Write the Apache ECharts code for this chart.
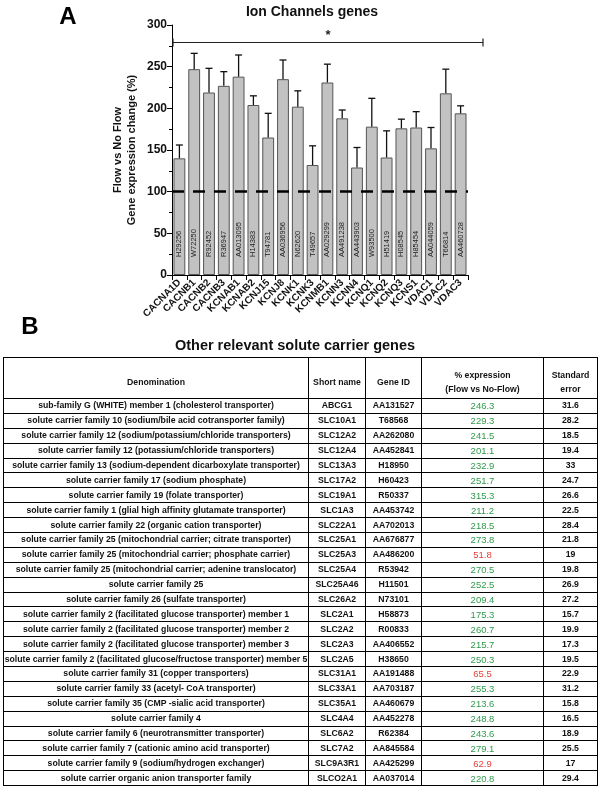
<!DOCTYPE html>
<html>
<head>
<meta charset="utf-8">
<script src="https://cdn.jsdelivr.net/npm/echarts@6/dist/echarts.min.js"></script>
<style>
  html, body { margin: 0; padding: 0; background: #fff; }
  #chart { position: absolute; left: 0; top: 0; width: 600px; height: 787px; }
  #tbl { position: absolute; left: 3px; top: 357px; width: 594px; }
  table { border-collapse: collapse; table-layout: fixed; width: 594px;
          font-family: 'Liberation Sans', Arial, sans-serif; font-size: 8.7px; font-weight: bold; color: #111; }
  td, th { border: 1px solid #000; padding: 0; text-align: center; white-space: nowrap; overflow: visible; line-height: 11px; }
  thead tr { height: 41px; }
  th { font-weight: bold; line-height: 14px; padding-top: 7px; box-sizing: border-box; }
  tbody tr { height: 14.9px; }
  td.pct { font-weight: normal; font-size: 9.5px; }
</style>
</head>
<body>
<div id="chart"></div>
<div id="tbl"></div>
<script>
// ---------- Panel A data ----------
var categories = ['CACNA1D','CACNB1','CACNB2','CACNB3','KCNAB1','KCNAB2','KCNJ15','KCNJ8','KCNK1','KCNK3',
                  'KCNMB1','KCNN3','KCNN4','KCNQ1','KCNQ2','KCNQ3','KCNS1','VDAC1','VDAC2','VDAC3'];
var probeIds = ['H29256','W72250','R92452','R36947','AA013095','H14383','T94781','AA036956','N62620','T49657',
                'AA029299','AA491238','AA443903','W93500','H51419','H08545','H85454','AA044059','T66814','AA460728'];
var expression = [140,247,219,227,238,204,165,235,202,132,231,188,129,178,141,176,177,152,218,194];
var stdErrA = [16,19,29,17,26,11,29,23,19,23,22,10,24,34,32,11,19,25,29,9];
var yTicks = [0, 300, 50];        // min, max, interval
var baseline = 100;
var bracketLevel = 279;

// ---------- Panel B data ----------
var headers = ['Denomination','Short name','Gene ID','% expression<br>(Flow vs No-Flow)','Standard<br>error'];
var denominations = [
  'sub-family G (WHITE) member 1 (cholesterol transporter)',
  'solute carrier family 10 (sodium/bile acid cotransporter family)',
  'solute carrier family 12 (sodium/potassium/chloride transporters)',
  'solute carrier family 12 (potassium/chloride transporters)',
  'solute carrier family 13 (sodium-dependent dicarboxylate transporter)',
  'solute carrier family 17 (sodium phosphate)',
  'solute carrier family 19 (folate transporter)',
  'solute carrier family 1 (glial high affinity glutamate transporter)',
  'solute carrier family 22 (organic cation transporter)',
  'solute carrier family 25 (mitochondrial carrier; citrate transporter)',
  'solute carrier family 25 (mitochondrial carrier; phosphate carrier)',
  'solute carrier family 25 (mitochondrial carrier; adenine translocator)',
  'solute carrier family 25',
  'solute carrier family 26 (sulfate transporter)',
  'solute carrier family 2 (facilitated glucose transporter) member 1',
  'solute carrier family 2 (facilitated glucose transporter) member 2',
  'solute carrier family 2 (facilitated glucose transporter) member 3',
  'solute carrier family 2 (facilitated glucose/fructose transporter) member 5',
  'solute carrier family 31 (copper transporters)',
  'solute carrier family 33 (acetyl- CoA transporter)',
  'solute carrier family 35 (CMP -sialic acid transporter)',
  'solute carrier family 4',
  'solute carrier family 6 (neurotransmitter transporter)',
  'solute carrier family 7 (cationic amino acid transporter)',
  'solute carrier family 9 (sodium/hydrogen exchanger)',
  'solute carrier organic anion transporter family'
];
var shortNames = ['ABCG1','SLC10A1','SLC12A2','SLC12A4','SLC13A3','SLC17A2','SLC19A1','SLC1A3','SLC22A1','SLC25A1',
  'SLC25A3','SLC25A4','SLC25A46','SLC26A2','SLC2A1','SLC2A2','SLC2A3','SLC2A5','SLC31A1','SLC33A1','SLC35A1',
  'SLC4A4','SLC6A2','SLC7A2','SLC9A3R1','SLCO2A1'];
var geneIds = ['AA131527','T68568','AA262080','AA452841','H18950','H60423','R50337','AA453742','AA702013','AA676877',
  'AA486200','R53942','H11501','N73101','H58873','R00833','AA406552','H38650','AA191488','AA703187','AA460679',
  'AA452278','R62384','AA845584','AA425299','AA037014'];
var pctExpression = ['246.3','229.3','241.5','201.1','232.9','251.7','315.3','211.2','218.5','273.8',
  '51.8','270.5','252.5','209.4','175.3','260.7','215.7','250.3','65.5','255.3','213.6',
  '248.8','243.6','279.1','62.9','220.8'];
var stdErrB = ['31.6','28.2','18.5','19.4','33','24.7','26.6','22.5','28.4','21.8',
  '19','19.8','26.9','27.2','15.7','19.9','17.3','19.5','22.9','31.2','15.8',
  '16.5','18.9','25.5','17','29.4'];

// ---------- build table ----------
(function () {
  var colW = [305, 57, 56, 122, 54];
  var h = '<table><colgroup>' + colW.map(function (w) { return '<col style="width:' + w + 'px">'; }).join('') + '</colgroup>';
  h += '<thead><tr>' + headers.map(function (t) { return '<th>' + t + '</th>'; }).join('') + '</tr></thead><tbody>';
  for (var i = 0; i < denominations.length; i++) {
    var v = parseFloat(pctExpression[i]);
    var col = v >= 100 ? '#2f9a4c' : '#e2413b';
    h += '<tr><td>' + denominations[i] + '</td><td>' + shortNames[i] + '</td><td>' + geneIds[i] +
         '</td><td class="pct" style="color:' + col + '">' + pctExpression[i] + '</td><td>' + stdErrB[i] + '</td></tr>';
  }
  h += '</tbody></table>';
  document.getElementById('tbl').innerHTML = h;
})();

// ---------- chart ----------
var chart = echarts.init(document.getElementById('chart'));
var FONT = "'Liberation Sans', Arial, sans-serif";

var errData = expression.map(function (v, i) { return [i, v, stdErrA[i]]; });

var option = {
  animation: false,
  backgroundColor: '#fff',
  textStyle: { fontFamily: FONT },
  graphic: [
    { type: 'text', x: 68, y: 17, style: { text: 'A', font: 'bold 24px ' + FONT, fill: '#000', align: 'center', verticalAlign: 'middle' } },
    { type: 'text', x: 312, y: 12, style: { text: 'Ion Channels genes', font: 'bold 14px ' + FONT, fill: '#111', align: 'center', verticalAlign: 'middle' } },
    { type: 'text', x: 30, y: 327, style: { text: 'B', font: 'bold 24px ' + FONT, fill: '#000', align: 'center', verticalAlign: 'middle' } },
    { type: 'text', x: 295, y: 346, style: { text: 'Other relevant solute carrier genes', font: 'bold 14.5px ' + FONT, fill: '#111', align: 'center', verticalAlign: 'middle' } }
  ],
  grid: { left: 172, right: 132, top: 25, bottom: 512, containLabel: false },
  xAxis: {
    type: 'category',
    data: categories,
    axisLine: { lineStyle: { color: '#000', width: 1 } },
    axisTick: { show: true, length: 5, interval: 0, lineStyle: { color: '#000' } },
    axisLabel: { interval: 0, rotate: 45, fontSize: 10, fontWeight: 'bold', color: '#111', margin: 6 }
  },
  yAxis: {
    type: 'value',
    min: yTicks[0], max: yTicks[1], interval: yTicks[2],
    name: 'Flow vs No Flow\nGene expression change (%)',
    nameLocation: 'middle', nameRotate: 90, nameGap: 33,
    nameTextStyle: { fontSize: 11, fontWeight: 'bold', color: '#111', lineHeight: 14 },
    axisLine: { show: true, lineStyle: { color: '#000', width: 1 } },
    axisTick: { show: true, length: 5, lineStyle: { color: '#000' } },
    minorTick: { show: true, splitNumber: 2, length: 3, lineStyle: { color: '#000' } },
    splitLine: { show: false },
    axisLabel: { fontSize: 12, fontWeight: 'bold', color: '#111', margin: 5 }
  },
  series: [
    {
      type: 'bar',
      data: expression,
      barWidth: '80%',
      itemStyle: { color: '#c2c2c2', borderColor: '#555', borderWidth: 1 },
      label: {
        show: true, position: 'insideBottom', rotate: 90, distance: 18,
        align: 'left', verticalAlign: 'middle', fontSize: 7.5, color: '#222',
        formatter: function (p) { return probeIds[p.dataIndex]; }
      },
      markLine: {
        silent: true, symbol: 'none', label: { show: false },
        lineStyle: { color: '#000', width: 2.5, type: [12, 9] },
        data: [{ yAxis: baseline }]
      },
      z: 2
    },
    {
      type: 'custom',
      data: errData,
      z: 3,
      renderItem: function (params, api) {
        var i = api.value(0), v = api.value(1), e = api.value(2);
        var p1 = api.coord([i, v]);
        var p2 = api.coord([i, v + e]);
        var st = { stroke: '#111', lineWidth: 1.3 };
        return {
          type: 'group',
          children: [
            { type: 'line', shape: { x1: p1[0], y1: p1[1], x2: p2[0], y2: p2[1] }, style: st },
            { type: 'line', shape: { x1: p2[0] - 3.5, y1: p2[1], x2: p2[0] + 3.5, y2: p2[1] }, style: st }
          ]
        };
      }
    },
    {
      type: 'custom',
      data: [[0, bracketLevel]],
      z: 3,
      clip: false,
      renderItem: function (params, api) {
        var cs = params.coordSys;
        var y = api.coord([0, api.value(1)])[1];
        var x1 = cs.x + 1, x2 = cs.x + cs.width + 15;
        var st = { stroke: '#222', lineWidth: 1.2 };
        return {
          type: 'group',
          children: [
            { type: 'line', shape: { x1: x1, y1: y, x2: x2, y2: y }, style: st },
            { type: 'line', shape: { x1: x1, y1: y - 4, x2: x1, y2: y + 4 }, style: st },
            { type: 'line', shape: { x1: x2, y1: y - 4, x2: x2, y2: y + 4 }, style: st },
            { type: 'text', x: (x1 + x2) / 2, y: y - 1, style: { text: '*', font: 'bold 13px ' + FONT, fill: '#222', align: 'center', verticalAlign: 'bottom' } }
          ]
        };
      }
    }
  ]
};
chart.setOption(option);
</script>
</body>
</html>
